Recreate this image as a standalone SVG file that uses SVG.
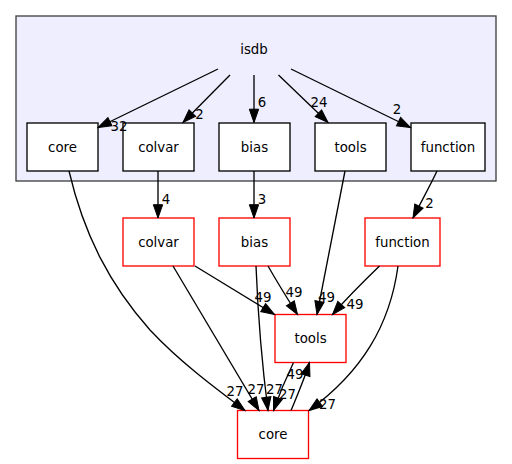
<svg xmlns="http://www.w3.org/2000/svg" width="512" height="464" viewBox="0 0 512 464">
<style>
text{font-family:"DejaVu Sans","Liberation Sans",sans-serif;font-size:13.33px;fill:#000;text-anchor:middle}
.in{fill:#fff;stroke:#000;stroke-width:1.33}
.out{fill:#fff;stroke:#ff0000;stroke-width:1.33}
.e{fill:none;stroke:#000;stroke-width:1.33;marker-end:url(#ah)}
</style>
<defs>
<marker id="ah" markerUnits="userSpaceOnUse" markerWidth="14" markerHeight="10" refX="13.3" refY="4.67" orient="auto" overflow="visible">
<path d="M0,0 L13.3,4.67 L0,9.33 z" fill="#000" stroke="#000" stroke-width="1"/>
</marker>
</defs>
<rect width="512" height="464" fill="#fff"/>
<g id="cluster_isdb">
<rect x="16" y="16" width="480" height="165" fill="#eeeeff" stroke="#404040" stroke-width="1.33"/>
<text x="254" y="54">isdb</text>
</g>
<g id="isdb_core"><rect class="in" x="27" y="123" width="71" height="48"/><text x="62.5" y="151.5">core</text></g>
<g id="isdb_colvar"><rect class="in" x="123" y="123" width="71" height="48"/><text x="158.5" y="151.5">colvar</text></g>
<g id="isdb_bias"><rect class="in" x="219" y="123" width="71" height="48"/><text x="254.5" y="151.5">bias</text></g>
<g id="isdb_tools"><rect class="in" x="315" y="123" width="71" height="48"/><text x="350.5" y="151.5">tools</text></g>
<g id="isdb_function"><rect class="in" x="411" y="123" width="74" height="48"/><text x="448" y="151.5">function</text></g>
<g id="colvar"><rect class="out" x="123" y="218" width="71" height="48"/><text x="158.5" y="246.5">colvar</text></g>
<g id="bias"><rect class="out" x="219" y="218" width="71" height="48"/><text x="254.5" y="246.5">bias</text></g>
<g id="function"><rect class="out" x="365" y="218" width="75" height="48"/><text x="402.5" y="246.5">function</text></g>
<g id="tools"><rect class="out" x="275" y="314.5" width="71" height="48"/><text x="310.5" y="343">tools</text></g>
<g id="core"><rect class="out" x="237.5" y="410.5" width="71" height="48"/><text x="273" y="439">core</text></g>
<g id="edges">
<path class="e" d="M218,69 L98,127.5"/>
<text x="119" y="131">32</text>
<path class="e" d="M230,75 L183,122.5"/>
<text x="199.5" y="118.5">2</text>
<path class="e" d="M254,75 L254,122.5"/>
<text x="262" y="107">6</text>
<path class="e" d="M278.5,75 L328,122.5"/>
<text x="319" y="107">24</text>
<path class="e" d="M291,69 L410.5,127.5"/>
<text x="397" y="114">2</text>
<path class="e" d="M158,171 L158,218"/>
<text x="166" y="204">4</text>
<path class="e" d="M254,171 L254,218"/>
<text x="262" y="204">3</text>
<path class="e" d="M345,171 C337,210 327,262 317,314.5"/>
<text x="326.5" y="302">49</text>
<path class="e" d="M437,171 C431,184 421,202 413,218"/>
<text x="429.5" y="208">2</text>
<path class="e" d="M69,171 C84,235 110,285 150,330 C180,362 215,388 245,410.5"/>
<text x="235" y="396">27</text>
<path class="e" d="M173,266 L259,410.5"/>
<text x="256" y="394">27</text>
<path class="e" d="M195,266 L274.5,314.5"/>
<text x="263" y="302">49</text>
<path class="e" d="M256,266 C258,315 262,365 268,410.5"/>
<text x="274.5" y="394">27</text>
<path class="e" d="M268,266 C276,280 287,298 297.5,314.5"/>
<text x="294" y="297">49</text>
<path class="e" d="M379.5,266 C365,280 347,298 332.5,314.5"/>
<text x="355" y="309">49</text>
<path class="e" d="M398,266 C390,325 362,372 309,410.5"/>
<text x="327.5" y="409">27</text>
<path class="e" d="M293.5,362.5 C287,376 280,392 273.5,410.5"/>
<text x="287.5" y="399">27</text>
<path class="e" d="M291,410.5 C297,396 304,380 309.5,362.5"/>
<text x="295" y="379">49</text>
</g>
</svg>
